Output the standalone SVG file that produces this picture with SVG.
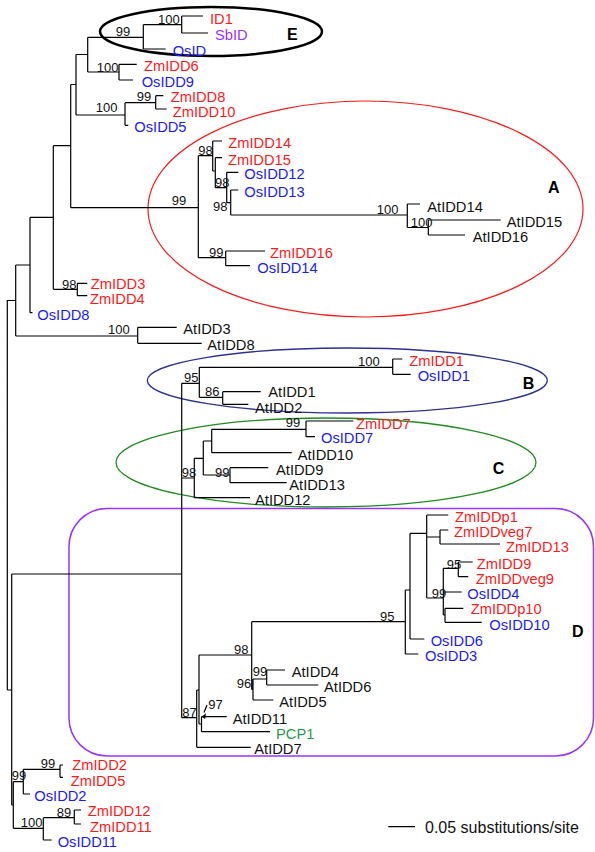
<svg xmlns="http://www.w3.org/2000/svg" width="595" height="852" viewBox="0 0 595 852">
<style>
text{font-family:"Liberation Sans",Arial,Helvetica,sans-serif}
.lf{font-size:14.7px}
.bs{font-size:13px;fill:#111}
.cl{font-size:16px;font-weight:bold;fill:#000}
.r{fill:#ff1a1a}.b{fill:#1a1aff}.k{fill:#111}.p{fill:#9933ff}.g{fill:#1f9a4a}
.br{fill:none;stroke:#000;stroke-width:1.2}
</style>
<rect width="595" height="852" fill="#fff"/>
<g id="clades" fill="none">
<ellipse cx="365.5" cy="209" rx="217.5" ry="108" stroke="#ff1a1a" stroke-width="1.2"/>
<ellipse cx="347.3" cy="380.5" rx="200" ry="32.5" stroke="#2e3192" stroke-width="1.3"/>
<ellipse cx="326" cy="462.5" rx="210" ry="44.5" stroke="#1e8c1e" stroke-width="1.3"/>
<rect x="69" y="508.5" width="524.5" height="247.5" rx="38" ry="38" stroke="#9933ff" stroke-width="1.5"/>
<ellipse cx="211" cy="31.5" rx="111" ry="24.5" stroke="#000" stroke-width="2.5"/>
</g>
<g id="branches" class="br">
<path d="M7.3 300V690M7.3 300.5H15.7M7.3 690H11.7
M15.7 265V336M15.7 265H30M15.7 336H137.7
M137.7 327.3V343.3M137.7 327.3H176.7M137.7 343.3H201.7
M30 217.3V312.7M30 312.7H32.5M30 217.3H53.3
M53.3 145.7V289.3M53.3 289.3H77.3M53.3 145.7H70.7
M77.3 283.3V295.7M77.3 283.3H87.3M77.3 295.7H87.3
M70.7 84.5V207.7M70.7 84.5H76M70.7 207.7H198.3
M76 54.5V115M76 54.5H87.7M76 115H125
M87.7 37.3V72M87.7 37.3H143.3M87.7 72H119
M143.3 24.7V49M143.3 24.7H181.7M143.3 49H165.7
M181.7 16V33M181.7 16H203M181.7 33H208
M119 64.3V80M119 64.3H136.7M119 80H133
M125 102.7V125.3M125 102.7H155.7M125 125.3H128.3
M155.7 95.7V109M155.7 95.7H163.3M155.7 109H166.7
M198.3 155.7V257.7M198.3 155.7H212.7M198.3 257.7H225.7
M212.7 141V171M212.7 141H222M212.7 171H215.3
M215.3 157.7V187.7M215.3 157.7H222M215.3 187.7H226.7
M226.7 172.3V202.7M226.7 172.3H238.3M226.7 202.7H230.7
M230.7 190V215M230.7 190H238.3M230.7 215H407.3
M407.3 204V227.5M407.3 204H420M407.3 227.5H428.3
M428.3 220V235M428.3 220H500.7M428.3 235H465
M225.7 251V265.7M225.7 251H265M225.7 265.7H250
M11.7 574V805M11.7 574H181.7M11.7 805H13.3
M181.7 383.3V717.7M181.7 383.3H199.3M181.7 478H194.3M181.7 717.7H196.7
M199.3 367.3V397.3M199.3 367.3H392.7M199.3 397.3H222.7
M392.7 359V374.3M392.7 359H402.3M392.7 374.3H410.7
M222.7 391.7V404.3M222.7 391.7H260.7M222.7 404.3H248.3
M194.3 458.3V497.7M194.3 458.3H203.3M194.3 497.7H250
M203.3 441V475M203.3 441H211.7M203.3 475H230
M211.7 429.3V452.7M211.7 429.3H306M211.7 452.7H291.7
M306 421V436.7M306 421H353.3M306 436.7H315
M230 467.7V482.7M230 467.7H268.3M230 482.7H286.7
M196.7 690V747.3M196.7 690H199M196.7 747.3H250.7
M199 655V724M199 655H251.7M199 724H201.5
M201.5 716.7V731.7M201.5 716.7H226.7M201.5 731.7H270
M251.7 621.7V689.5M251.7 621.7H405.3M251.7 689.5H253
M253 679V700M253 679H266.7M253 700H273.3
M266.7 670V685M266.7 670H285M266.7 685H318.3
M405.3 590V654M405.3 590H410M405.3 654H418.3
M410 533.3V639M410 533.3H426.7M410 639H424.3
M426.7 515V598M426.7 515H448.3M426.7 537H440M426.7 598H443.3
M440 530V544M440 530H448.3M440 544H500
M443.3 568.3V615M443.3 568.3H458.3M443.3 592H461.7M443.3 615H445
M458.3 562V576.7M458.3 562H472.7M458.3 576.7H468.3
M445 608.3V622.3M445 608.3H463.3M445 622.3H481.7
M13.3 781.7V828.3M13.3 781.7H23.3M13.3 828.3H43.3
M23.3 769.3V794M23.3 769.3H60M23.3 794H30
M60 765V777.3M60 765H63M60 777.3H63
M43.3 817.7V840M43.3 817.7H74.3M43.3 840H51.7
M74.3 810V824M74.3 810H81M74.3 824H81
M204 712.5L207 705
M388.3 826.7H415"/>
<polygon points="201.5,716.7 206,713.2 205.2,719" fill="#000" stroke="none"/>
</g>
<g id="support" class="bs">
<text x="158" y="24">100</text>
<text x="115.7" y="35.7">99</text>
<text x="96.7" y="71.7">100</text>
<text x="136.7" y="101">99</text>
<text x="95.7" y="112.3">100</text>
<text x="171.7" y="205">99</text>
<text x="198.3" y="155">98</text>
<text x="215" y="187">98</text>
<text x="213" y="211">98</text>
<text x="209" y="256.7">99</text>
<text x="62" y="289">98</text>
<text x="108" y="334">100</text>
<text x="376.7" y="214">100</text>
<text x="410.7" y="226.7">100</text>
<text x="358" y="365.7">100</text>
<text x="184" y="382.3">95</text>
<text x="205" y="396">86</text>
<text x="285.7" y="427.3">99</text>
<text x="215" y="476.7">99</text>
<text x="181.7" y="476.7">98</text>
<text x="380" y="620.7">95</text>
<text x="446.7" y="569">95</text>
<text x="431.7" y="598.3">99</text>
<text x="234" y="654.3">98</text>
<text x="252.7" y="676">99</text>
<text x="236.7" y="688.3">96</text>
<text x="208.3" y="709.3">97</text>
<text x="182.3" y="716.7">87</text>
<text x="40.7" y="768.3">99</text>
<text x="11.7" y="780">99</text>
<text x="56.7" y="816.7">89</text>
<text x="20.7" y="826.7">100</text>
</g>
<g id="leaves" class="lf">
<g id="n-ID1"><text class="r" x="210" y="23.5">ID1</text></g>
<g id="n-SbID"><text class="p" x="215" y="39.5">SbID</text></g>
<g id="n-OsID"><text class="b" x="172.7" y="56">OsID</text></g>
<g id="n-ZmIDD6"><text class="r" x="144" y="71.3">ZmIDD6</text></g>
<g id="n-OsIDD9"><text class="b" x="141.7" y="87">OsIDD9</text></g>
<g id="n-ZmIDD8"><text class="r" x="170.7" y="101.7">ZmIDD8</text></g>
<g id="n-ZmIDD10"><text class="r" x="172.7" y="117.3">ZmIDD10</text></g>
<g id="n-OsIDD5"><text class="b" x="134.3" y="132.3">OsIDD5</text></g>
<g id="n-ZmIDD14"><text class="r" x="228.3" y="147.5">ZmIDD14</text></g>
<g id="n-ZmIDD15"><text class="r" x="228" y="164.7">ZmIDD15</text></g>
<g id="n-OsIDD12"><text class="b" x="244.3" y="179.3">OsIDD12</text></g>
<g id="n-OsIDD13"><text class="b" x="244.3" y="196.5">OsIDD13</text></g>
<g id="n-AtIDD14"><text class="k" x="427.3" y="212">AtIDD14</text></g>
<g id="n-AtIDD15"><text class="k" x="506.7" y="227">AtIDD15</text></g>
<g id="n-AtIDD16"><text class="k" x="472.7" y="242">AtIDD16</text></g>
<g id="n-ZmIDD16"><text class="r" x="270" y="258">ZmIDD16</text></g>
<g id="n-OsIDD14"><text class="b" x="257.3" y="272.7">OsIDD14</text></g>
<g id="n-ZmIDD3"><text class="r" x="90.7" y="289">ZmIDD3</text></g>
<g id="n-ZmIDD4"><text class="r" x="90" y="304">ZmIDD4</text></g>
<g id="n-OsIDD8"><text class="b" x="37.3" y="319.7">OsIDD8</text></g>
<g id="n-AtIDD3"><text class="k" x="183.3" y="334.3">AtIDD3</text></g>
<g id="n-AtIDD8"><text class="k" x="207.3" y="350.3">AtIDD8</text></g>
<g id="n-ZmIDD1"><text class="r" x="409.3" y="366">ZmIDD1</text></g>
<g id="n-OsIDD1"><text class="b" x="417.7" y="381.3">OsIDD1</text></g>
<g id="n-AtIDD1"><text class="k" x="268.3" y="396.7">AtIDD1</text></g>
<g id="n-AtIDD2"><text class="k" x="255" y="412.7">AtIDD2</text></g>
<g id="n-ZmIDD7"><text class="r" x="356" y="429">ZmIDD7</text></g>
<g id="n-OsIDD7"><text class="b" x="321" y="442.7">OsIDD7</text></g>
<g id="n-AtIDD10"><text class="k" x="297.7" y="459.7">AtIDD10</text></g>
<g id="n-AtIDD9"><text class="k" x="276" y="474.7">AtIDD9</text></g>
<g id="n-AtIDD13"><text class="k" x="289.3" y="489.7">AtIDD13</text></g>
<g id="n-AtIDD12"><text class="k" x="255" y="504.7">AtIDD12</text></g>
<g id="n-ZmIDDp1"><text class="r" x="455" y="522">ZmIDDp1</text></g>
<g id="n-ZmIDDveg7"><text class="r" x="454" y="537">ZmIDDveg7</text></g>
<g id="n-ZmIDD13"><text class="r" x="506" y="551.5">ZmIDD13</text></g>
<g id="n-ZmIDD9"><text class="r" x="476.7" y="569">ZmIDD9</text></g>
<g id="n-ZmIDDveg9"><text class="r" x="475.7" y="583.7">ZmIDDveg9</text></g>
<g id="n-OsIDD4"><text class="b" x="467.3" y="599">OsIDD4</text></g>
<g id="n-ZmIDDp10"><text class="r" x="470.7" y="614">ZmIDDp10</text></g>
<g id="n-OsIDD10"><text class="b" x="489.3" y="630">OsIDD10</text></g>
<g id="n-OsIDD6"><text class="b" x="430.7" y="646">OsIDD6</text></g>
<g id="n-OsIDD3"><text class="b" x="425" y="661">OsIDD3</text></g>
<g id="n-AtIDD4"><text class="k" x="291.7" y="677">AtIDD4</text></g>
<g id="n-AtIDD6"><text class="k" x="324" y="692">AtIDD6</text></g>
<g id="n-AtIDD5"><text class="k" x="279.3" y="707">AtIDD5</text></g>
<g id="n-AtIDD11"><text class="k" x="232.7" y="723.7">AtIDD11</text></g>
<g id="n-PCP1"><text class="g" x="276" y="738.7">PCP1</text></g>
<g id="n-AtIDD7"><text class="k" x="254.3" y="754.3">AtIDD7</text></g>
<g id="n-ZmIDD2"><text class="r" x="72.3" y="770">ZmIDD2</text></g>
<g id="n-ZmIDD5"><text class="r" x="70.7" y="786">ZmIDD5</text></g>
<g id="n-OsIDD2"><text class="b" x="34.3" y="801">OsIDD2</text></g>
<g id="n-ZmIDD12"><text class="r" x="87.7" y="816">ZmIDD12</text></g>
<g id="n-ZmIDD11"><text class="r" x="90" y="832">ZmIDD11</text></g>
<g id="n-OsIDD11"><text class="b" x="57.7" y="847">OsIDD11</text></g>
</g>
<g id="labels" class="cl">
<text x="287" y="39.5">E</text>
<text x="548" y="193.3">A</text>
<text x="522.7" y="389.3">B</text>
<text x="492.7" y="474.3">C</text>
<text x="572" y="637.3">D</text>
</g>
<g id="scale"><text x="425" y="832.7" style="font-size:16px;fill:#111">0.05 substitutions/site</text></g>
</svg>
